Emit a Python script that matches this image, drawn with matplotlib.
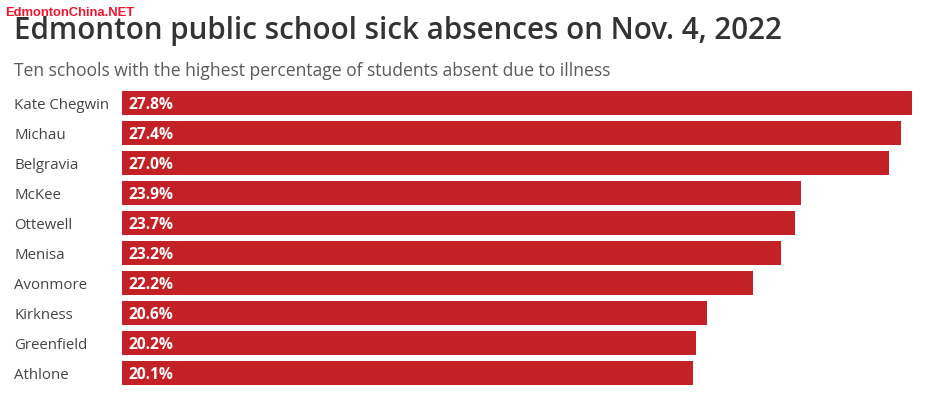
import matplotlib
matplotlib.use('Agg')
import matplotlib.pyplot as plt

schools = ['Kate Chegwin', 'Michau', 'Belgravia', 'McKee', 'Ottewell',
           'Menisa', 'Avonmore', 'Kirkness', 'Greenfield', 'Athlone']
absent = [27.8, 27.4, 27.0, 23.9, 23.7, 23.2, 22.2, 20.6, 20.2, 20.1]

plt.rcParams['font.family'] = ['Open Sans', 'DejaVu Sans']

W, H = 929, 406
fig = plt.figure(figsize=(W / 100, H / 100), dpi=100, facecolor='white')

# axes cover the bar area, in pixels of the reference
left, right, top, bottom = 122, 912, 89, 389
ax = fig.add_axes([left / W, 1 - bottom / H, (right - left) / W, (bottom - top) / H])
ypos = list(range(len(schools)))
ax.barh(ypos, absent, height=0.83, color='#c42126')
ax.set_xlim(0, 27.8)
ax.set_ylim(len(schools) - 0.5, -0.5)
ax.axis('off')

for y, name, val in zip(ypos, schools, absent):
    ax.annotate(f'{val:.1f}%', (0, y), xytext=(4.3, -0.5), textcoords='offset points',
                color='white', fontsize=11.2, fontweight='bold', va='center', ha='left')
    ax.annotate(name, (0, y), xytext=(-77.5, -1), textcoords='offset points',
                color='#444444', fontsize=10.8, va='center', ha='left')

fig.text(14 / W, 1 - 31 / H, 'Edmonton public school sick absences on Nov. 4, 2022',
         fontsize=21.35, fontweight=600, color='#333333', va='center', ha='left')
fig.text(14 / W, 1 - 71 / H, 'Ten schools with the highest percentage of students absent due to illness',
         fontsize=12.65, color='#5a5a5a', va='center', ha='left')
fig.text(5 / W, 1 - 13 / H, 'EdmontonChina.NET', fontsize=9.4, color='#f0142f',
         fontweight='bold', va='center', ha='left', family=['Liberation Sans', 'DejaVu Sans'])

fig.savefig('out.png', dpi=100)
